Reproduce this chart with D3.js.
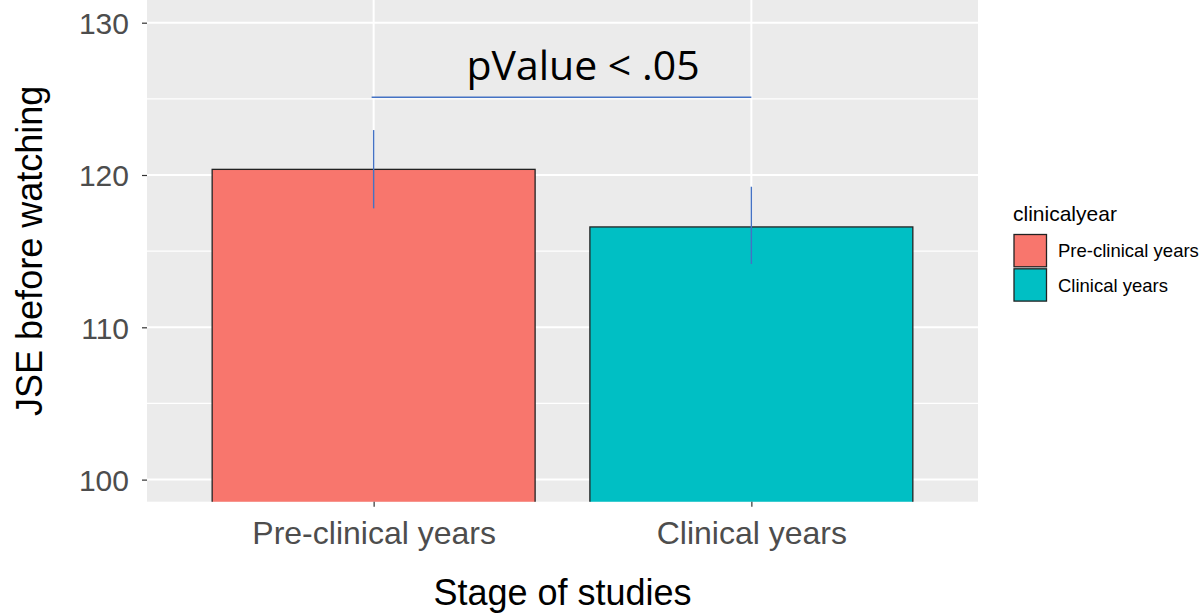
<!DOCTYPE html>
<html><head><meta charset="utf-8">
<script src="https://cdn.jsdelivr.net/npm/d3@7"></script>
<style>html,body{margin:0;padding:0;background:#fff;}</style>
</head><body>
<svg id="chart" width="1204" height="616"></svg>
<script>
const categories = ["Pre-clinical years", "Clinical years"];
const means = [120.37, 116.59];
const errLow = [117.81, 114.16];
const errHigh = [122.95, 119.23];
const colors = ["#F8766D", "#00BFC4"];
const yTicks = [100, 110, 120, 130];
const yMinor = [105, 115, 125];
const sigValue = 125.1;
const sigLabel = "pValue < .05";
const legendTitle = "clinicalyear";
const xTitle = "Stage of studies";
const yTitle = "JSE before watching";

const svg = d3.select("#chart");
const P = {left: 147, right: 978, top: 0, bottom: 501.7};

const x = d3.scalePoint().domain(categories).range([P.left, P.right]).padding(0.6);
const y = d3.scaleLinear().domain([98.55, 131.49]).range([P.bottom, P.top]);
const barW = x.step() * 0.855;

svg.append("defs").append("clipPath").attr("id", "clip")
  .append("rect").attr("x", P.left).attr("y", P.top).attr("width", P.right - P.left).attr("height", P.bottom - P.top);

svg.append("rect").attr("x", P.left).attr("y", P.top).attr("width", P.right - P.left).attr("height", P.bottom - P.top).attr("fill", "#EBEBEB");

const g = svg.append("g").attr("clip-path", "url(#clip)");
g.selectAll(".minor").data(yMinor).enter().append("line")
  .attr("x1", P.left).attr("x2", P.right).attr("y1", d => y(d)).attr("y2", d => y(d))
  .attr("stroke", "#fff").attr("stroke-width", 1.2);
g.selectAll(".major").data(yTicks).enter().append("line")
  .attr("x1", P.left).attr("x2", P.right).attr("y1", d => y(d)).attr("y2", d => y(d))
  .attr("stroke", "#fff").attr("stroke-width", 2);
g.selectAll(".vmajor").data(categories).enter().append("line")
  .attr("x1", d => x(d)).attr("x2", d => x(d)).attr("y1", P.top).attr("y2", P.bottom)
  .attr("stroke", "#fff").attr("stroke-width", 2);

g.selectAll(".bar").data(categories).enter().append("rect")
  .attr("x", d => x(d) - barW / 2).attr("width", barW)
  .attr("y", (d, i) => y(means[i])).attr("height", (d, i) => P.bottom + 5 - y(means[i]))
  .attr("fill", (d, i) => colors[i]).attr("stroke", "#222").attr("stroke-width", 1.3);

g.selectAll(".err").data(categories).enter().append("line")
  .attr("x1", d => x(d)).attr("x2", d => x(d))
  .attr("y1", (d, i) => y(errHigh[i])).attr("y2", (d, i) => y(errLow[i]))
  .attr("stroke", "#4472C4").attr("stroke-width", 1.4);

g.append("line").attr("x1", x(categories[0]) - 2).attr("x2", x(categories[1]))
  .attr("y1", y(sigValue)).attr("y2", y(sigValue))
  .attr("stroke", "#4472C4").attr("stroke-width", 1.4);

svg.append("text").attr("x", 583).attr("y", 79.5)
  .attr("text-anchor", "middle").attr("font-family", "Open Sans, Carlito, sans-serif")
  .attr("font-size", 41).attr("fill", "#000").text(sigLabel);

// Y axis
const ya = svg.append("g").attr("transform", `translate(${P.left},0)`)
  .call(d3.axisLeft(y).tickValues(yTicks).tickSize(5).tickPadding(13).tickFormat(d3.format("d")));
ya.select(".domain").remove();
ya.selectAll(".tick line").attr("stroke", "#333").attr("stroke-width", 1.2);
ya.selectAll(".tick text").attr("font-family", "Liberation Sans, Arial, sans-serif")
  .attr("font-size", 30).attr("fill", "#4D4D4D").attr("dy", "0.36em");

// X axis
const xa = svg.append("g").attr("transform", `translate(0,${P.bottom})`)
  .call(d3.axisBottom(x).tickSize(5).tickPadding(10));
xa.select(".domain").remove();
xa.selectAll(".tick line").attr("stroke", "#333").attr("stroke-width", 1.2);
xa.selectAll(".tick text").attr("font-family", "Liberation Sans, Arial, sans-serif")
  .attr("font-size", 32).attr("fill", "#4D4D4D").attr("y", 42.6).attr("dy", 0);

svg.append("text").attr("x", (P.left + P.right) / 2).attr("y", 605)
  .attr("text-anchor", "middle").attr("font-family", "Liberation Sans, Arial, sans-serif")
  .attr("font-size", 36).attr("fill", "#000").text(xTitle);

svg.append("text").attr("transform", `translate(42,${(P.top + P.bottom) / 2}) rotate(-90)`)
  .attr("text-anchor", "middle").attr("font-family", "Liberation Sans, Arial, sans-serif")
  .attr("font-size", 36).attr("fill", "#000").text(yTitle);

// Legend
const lg = svg.append("g").attr("transform", "translate(1013,0)");
lg.append("text").attr("x", 0).attr("y", 220.5).attr("font-family", "Liberation Sans, Arial, sans-serif")
  .attr("font-size", 21).attr("fill", "#000").text(legendTitle);
const items = lg.selectAll(".item").data(categories).enter().append("g")
  .attr("transform", (d, i) => `translate(0,${234.5 + i * 34.3})`);
items.append("rect").attr("x", 1).attr("y", 0).attr("width", 32.5).attr("height", 32.3)
  .attr("fill", (d, i) => colors[i]).attr("stroke", "#222").attr("stroke-width", 1.3);
items.append("text").attr("x", 45).attr("y", 16.5).attr("dy", "0.35em")
  .attr("font-family", "Liberation Sans, Arial, sans-serif").attr("font-size", 18.5)
  .attr("fill", "#000").text(d => d);
</script>
</body></html>
